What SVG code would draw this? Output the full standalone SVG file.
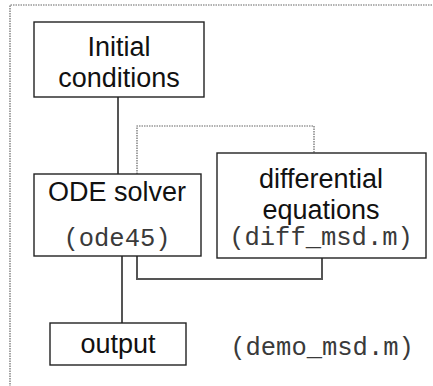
<svg xmlns="http://www.w3.org/2000/svg" width="433" height="386" viewBox="0 0 433 386">
  <style>
    .box { fill: #ffffff; stroke: #222222; stroke-width: 1.4; }
    .sans { font-family: "Liberation Sans", Arial, sans-serif; font-size: 27px; fill: #111111; text-anchor: middle; }
    .mono { font-family: "Liberation Mono", "Courier New", monospace; font-size: 25.5px; fill: #3a3a3a; text-anchor: middle; }
    .wire { fill: none; stroke: #555555; stroke-width: 2; }
    .dotted { fill: none; stroke: #666666; stroke-width: 1.2; stroke-dasharray: 1.5 1; }
  </style>
  <rect width="433" height="386" fill="#ffffff"/>

  <!-- dotted frame round the program (only top and left edges fall inside the view) -->
  <path class="dotted" d="M10,392 V5 H440"/>

  <g id="connectors">
    <path class="wire" d="M118,97 V174"/>
    <path class="wire" d="M122,256 V323"/>
    <path class="wire" d="M137,256 V279 H322 V258"/>
    <path class="dotted" d="M137,174 V126 H314 V153"/>
  </g>

  <g id="initial-conditions">
    <rect class="box" x="34" y="22" width="170" height="75"/>
    <text class="sans" x="119" y="56">Initial</text>
    <text class="sans" x="119" y="87">conditions</text>
  </g>

  <g id="ode-solver">
    <rect class="box" x="34" y="174" width="167" height="82"/>
    <text class="sans" x="117" y="201">ODE solver</text>
    <text class="mono" x="117" y="246">(ode45)</text>
  </g>

  <g id="differential-equations">
    <rect class="box" x="217" y="153" width="209" height="105"/>
    <text class="sans" x="321" y="188">differential</text>
    <text class="sans" x="321" y="219">equations</text>
    <text class="mono" x="321" y="245">(diff_msd.m)</text>
  </g>

  <g id="output">
    <rect class="box" x="50" y="323" width="136" height="42"/>
    <text class="sans" x="118" y="353">output</text>
  </g>

  <text class="mono" x="322" y="355">(demo_msd.m)</text>
</svg>
